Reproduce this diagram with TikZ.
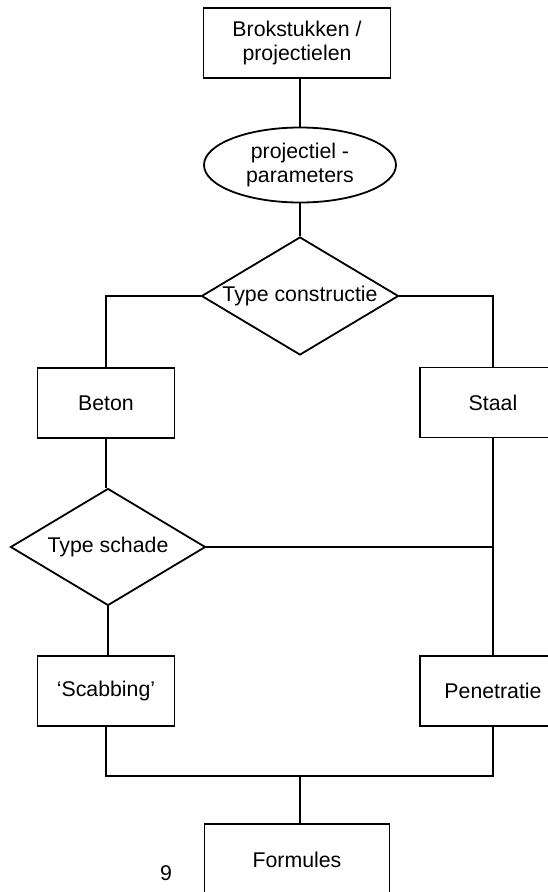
\documentclass[tikz,border=0pt]{standalone}
\usepackage{fontspec}
\setmainfont{Liberation Sans}
\usetikzlibrary{shapes.geometric}
\begin{document}
\begin{tikzpicture}[x=1pt,y=-1pt,line width=1.8pt,
  font=\fontsize{21.3}{24}\selectfont,
  box/.style={draw,rectangle,minimum width=137pt,minimum height=70pt,inner sep=0pt,align=center},
  oval/.style={draw,ellipse,minimum width=192pt,minimum height=75pt,inner sep=0pt,align=center},
  dia/.style={draw,diamond,aspect=1.67,minimum width=197pt,minimum height=118pt,inner sep=0pt},
  lbl/.style={inner sep=0pt}]
\clip (0,0) rectangle (548,892);
\useasboundingbox (0,0) rectangle (548,892);
\node[box,minimum width=187pt] (top) at (297,43) {Brokstukken /\\projectielen};
\node[oval] (ell) at (300,165) {projectiel -\\parameters};
\node[dia] (d1) at (300,296) {Type constructie};
\node[box] (beton) at (106,403) {Beton};
\node[box,minimum width=146pt] (staal) at (493,402.5) {Staal};
\node[dia,minimum width=195pt,minimum height=117pt] (d2) at (108,547) {Type schade};
\node[box] (scab) at (106,691) {‘Scabbing’};
\node[box,minimum width=146pt] (pen) at (493,691) {Penetratie};
\node[box,minimum width=185pt,minimum height=72pt] (form) at (297,860) {Formules};
\node[lbl] (num) at (166,873.5) {9};
\coordinate (j) at (300,776);
\draw (ell.north) -- (ell.north |- top.south);
\draw (ell.south) -- (d1.north);
\draw (d1.west) -| (beton.north);
\draw (d1.east) -| (staal.north);
\draw (beton.south) -- (beton.south |- d2.north);
\draw (d2.east) -- (d2.east -| staal.south);
\draw (staal.south) -- (pen.north);
\draw (d2.south) -- (d2.south |- scab.north);
\draw (scab.south) |- (j) -| (pen.south);
\draw (j) -- (j |- form.north);
\end{tikzpicture}
\end{document}
